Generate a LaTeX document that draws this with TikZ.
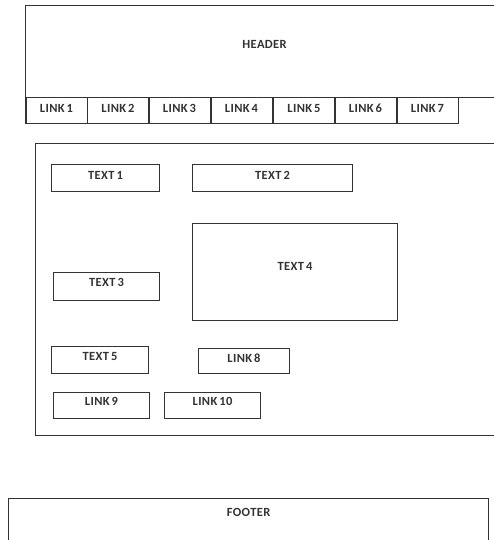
\documentclass[tikz,border=0pt]{standalone}
\usepackage{fontspec}
\setmainfont{Carlito}[LetterSpace=3, WordSpace=0.6]
\usepackage{tikz}
\tikzset{
    every node/.style={font=\fontsize{12.5}{14}\selectfont\bfseries, text=black!80, inner sep=0pt}
}
\tikzset{box/.style={rectangle, draw=black!80, line width=1pt, anchor=north west, text height=8pt, text depth=6pt}}
\tikzset{linkbox/.style={box, line width=1.5pt, minimum width=61.5pt, minimum height=26pt, text depth=4pt}}

\begin{document}
\begin{tikzpicture}[x=1pt, y=-1pt]
    \useasboundingbox (0,0) rectangle (494,540);

    \node (header) [box, line width=1.2pt, minimum width=478pt, minimum height=92pt, text depth=14pt] at (25,5) {HEADER};

    \node (link1) [linkbox] at (25,97) {LINK 1};
    \node (link2) [linkbox] at (86.5,97) {LINK 2};
    \node (link3) [linkbox] at (148,97) {LINK 3};
    \node (link4) [linkbox] at (210,97) {LINK 4};
    \node (link5) [linkbox] at (272.5,97) {LINK 5};
    \node (link6) [linkbox] at (334,97) {LINK 6};
    \node (link7) [linkbox] at (396,97) {LINK 7};

    \node (content) [box, line width=1.3pt, minimum width=468pt, minimum height=292pt] at (35,143) {};

    \node (text1) [box, minimum width=108pt, minimum height=27pt] at (51,164) {TEXT 1};
    \node (text2) [box, minimum width=160pt, minimum height=27pt] at (192,164) {TEXT 2};
    \node (text4) [box, minimum width=205pt, minimum height=97pt, text depth=11pt] at (192,223) {TEXT 4};
    \node (text3) [box, minimum width=106pt, minimum height=28pt, text depth=8pt] at (53,272) {TEXT 3};
    \node (text5) [box, minimum width=97pt, minimum height=27pt, text depth=8pt] at (51,346) {TEXT 5};
    \node (link8) [box, minimum width=91pt, minimum height=25pt, text depth=5pt] at (198,348) {LINK 8};
    \node (link9) [box, minimum width=96pt, minimum height=26pt, text depth=8pt] at (53,392) {LINK 9};
    \node (link10) [box, minimum width=96pt, minimum height=26pt, text depth=8pt] at (164,392) {LINK 10};

    \node (footer) [box, line width=1.2pt, minimum width=480pt, minimum height=60pt, label={[anchor=north, yshift=-10pt]north:FOOTER}] at (8,498) {};
\end{tikzpicture}
\end{document}
